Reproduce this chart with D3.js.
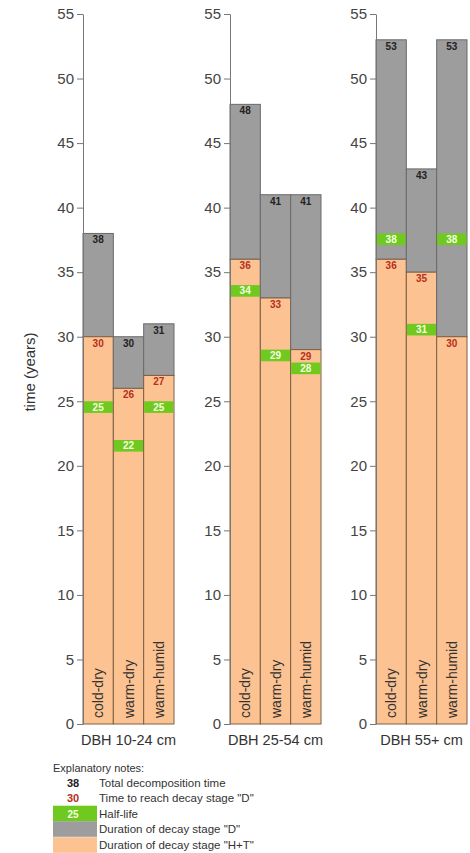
<!DOCTYPE html>
<html><head><meta charset="utf-8">
<script src="https://cdn.jsdelivr.net/npm/d3@7/dist/d3.min.js"></script>
<style>body{margin:0;background:#fff}svg{display:block;font-family:"Liberation Sans",Arial,sans-serif}</style>
</head><body><svg id="c" width="470" height="853"></svg>
<script>
const groups = ["DBH 10-24 cm", "DBH 25-54 cm", "DBH 55+ cm"];
const categories = ["cold-dry", "warm-dry", "warm-humid"];
const totalTime = [[38, 30, 31], [48, 41, 41], [53, 43, 53]];
const timeToD = [[30, 26, 27], [36, 33, 29], [36, 35, 30]];
const halfLife = [[25, 22, 25], [34, 29, 28], [38, 31, 38]];
const tickValues = [0, 5, 10, 15, 20, 25, 30, 35, 40, 45, 50, 55];
const legendItems = ["Total decomposition time", "Time to reach decay stage \"D\"", "Half-life", "Duration of decay stage \"D\"", "Duration of decay stage \"H+T\""];

const C = {orange: "#fcc291", gray: "#9d9d9d", green: "#70c91f", red: "#b5301c", dark: "#222"};
const svg = d3.select("#c");
const y = d3.scaleLinear().domain([0, 55]).range([724, 14]);
const axisX = [83, 230, 376];
const panelW = 91;

groups.forEach((g, gi) => {
  const x = d3.scaleBand().domain(categories).range([axisX[gi], axisX[gi] + panelW]).padding(0);
  const p = svg.append("g");
  categories.forEach((c, ci) => {
    const x0 = x(c), w = x.bandwidth();
    const tot = totalTime[gi][ci], d = timeToD[gi][ci], h = halfLife[gi][ci];
    // gray part
    p.append("rect").attr("x", x0).attr("y", y(tot)).attr("width", w).attr("height", y(d) - y(tot))
      .attr("fill", C.gray).attr("stroke", "#6a6a6a").attr("stroke-width", 1);
    // orange part
    p.append("rect").attr("x", x0).attr("y", y(d)).attr("width", w).attr("height", y(0) - y(d))
      .attr("fill", C.orange).attr("stroke", "#7d6046").attr("stroke-width", 1);
    // half-life band
    p.append("rect").attr("x", x0 + 0.5).attr("y", y(h)).attr("width", w - 1).attr("height", y(h - 0.9) - y(h))
      .attr("fill", C.green);
    p.append("text").attr("x", x0 + w / 2).attr("y", (y(h) + y(h - 0.9)) / 2 + 3.5)
      .attr("text-anchor", "middle").attr("font-size", 10).attr("font-weight", "bold").attr("fill", "#f4ffe0").text(h);
    // labels
    p.append("text").attr("x", x0 + w / 2).attr("y", y(tot) + 10)
      .attr("text-anchor", "middle").attr("font-size", 10).attr("font-weight", "bold").attr("fill", C.dark).text(tot);
    p.append("text").attr("x", x0 + w / 2).attr("y", y(d) + 10)
      .attr("text-anchor", "middle").attr("font-size", 10).attr("font-weight", "bold").attr("fill", C.red).text(d);
    // category label
    p.append("text").attr("transform", `translate(${x0 + w / 2 + 5},718) rotate(-90)`)
      .attr("font-size", 14).attr("fill", "#333").text(c);
  });
  const ax = p.append("g").attr("transform", `translate(${axisX[gi]},0)`)
    .call(d3.axisLeft(y).tickValues(tickValues).tickSize(6).tickSizeOuter(0).tickPadding(3));
  ax.select(".domain").attr("stroke", "#777");
  ax.selectAll(".tick line").attr("stroke", "#777");
  ax.selectAll(".tick text").attr("font-size", 15).attr("fill", "#444").attr("font-family", "Liberation Sans, Arial, sans-serif");
  p.append("text").attr("x", axisX[gi] + panelW / 2).attr("y", 745).attr("text-anchor", "middle")
    .attr("font-size", 14.5).attr("fill", "#333").text(g);
});

svg.append("text").attr("transform", "translate(35,372) rotate(-90)").attr("text-anchor", "middle")
  .attr("font-size", 15).attr("fill", "#333").text("time (years)");

// legend
const lg = svg.append("g");
lg.append("text").attr("x", 53).attr("y", 772).attr("font-size", 11).attr("fill", "#333").text("Explanatory notes:");
const rowsY = [783, 798, 813.5, 829, 845];
lg.append("text").attr("x", 73).attr("y", rowsY[0] + 4).attr("text-anchor", "middle").attr("font-size", 11).attr("font-weight", "bold").attr("fill", C.dark).text(totalTime[0][0]);
lg.append("text").attr("x", 73).attr("y", rowsY[1] + 4).attr("text-anchor", "middle").attr("font-size", 11).attr("font-weight", "bold").attr("fill", C.red).text(timeToD[0][0]);
[C.green, C.gray, C.orange].forEach((col, i) => {
  lg.append("rect").attr("x", 53).attr("y", rowsY[i + 2] - 7.8).attr("width", 44).attr("height", 15.6).attr("fill", col);
});
lg.append("text").attr("x", 73).attr("y", rowsY[2] + 4).attr("text-anchor", "middle").attr("font-size", 10).attr("font-weight", "bold").attr("fill", "#f4ffe0").text(halfLife[0][0]);
legendItems.forEach((t, i) => {
  lg.append("text").attr("x", 99).attr("y", rowsY[i] + 4).attr("font-size", 11.5).attr("fill", "#333").text(t);
});
</script></body></html>
